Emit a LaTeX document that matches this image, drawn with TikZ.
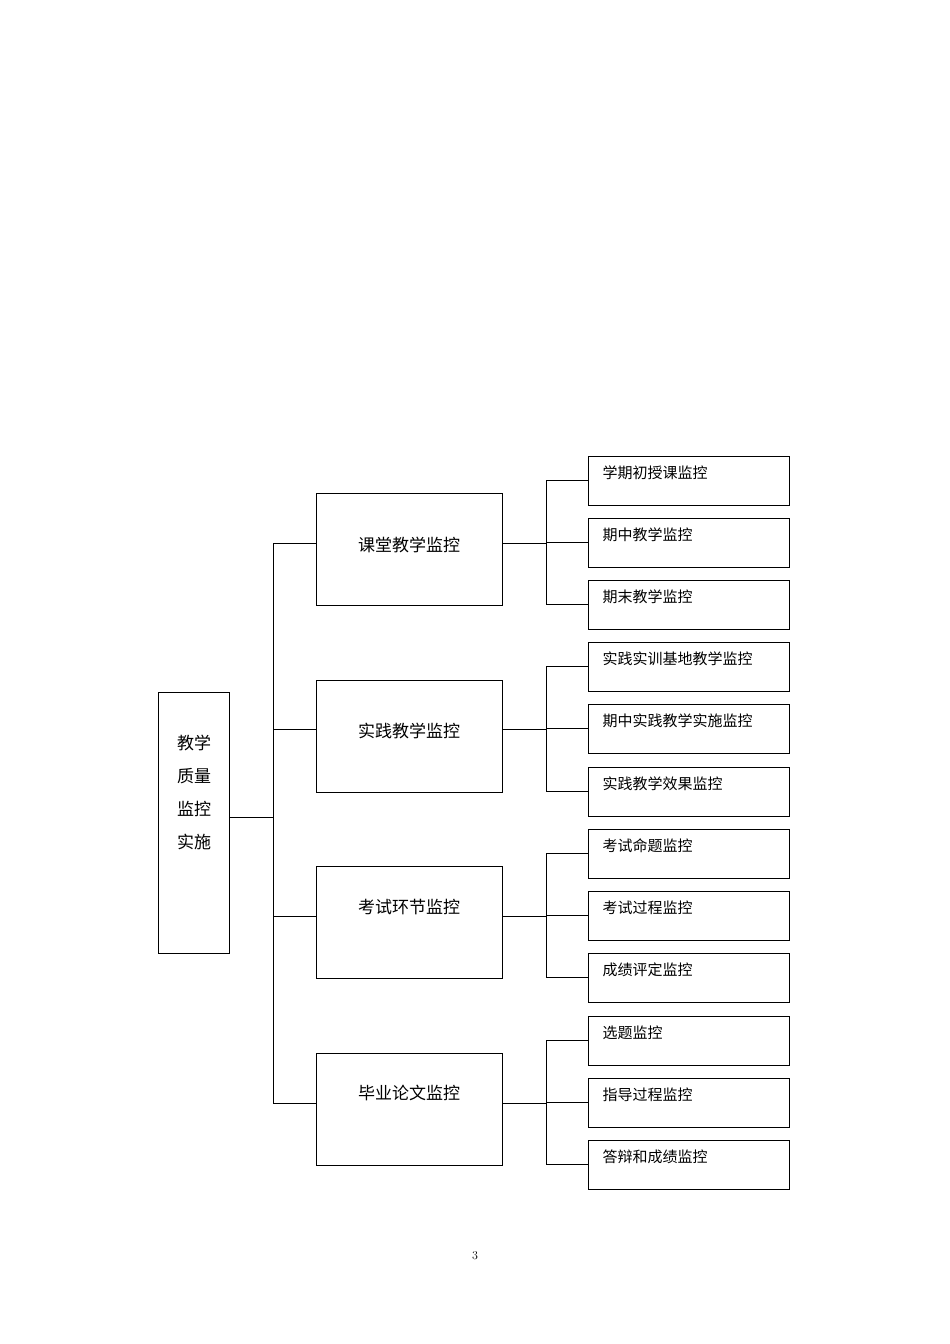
\documentclass[tikz,border=0pt]{standalone}
\usepackage{fontspec}
\newfontfamily\cjk{Noto Sans CJK SC}
\begin{document}
\begin{tikzpicture}[x=1pt,y=-1pt,
  rootbox/.style={draw,line width=0.8pt,minimum width=71pt,minimum height=261pt,anchor=north west,inner sep=0pt},
  midbox/.style={draw,line width=0.8pt,minimum width=186pt,minimum height=112pt,anchor=north west,inner sep=0pt},
  leafbox/.style={draw,line width=0.8pt,minimum width=201pt,minimum height=49pt,anchor=north west,inner sep=0pt},
  txt/.style={font=\cjk\fontsize{17}{20}\selectfont},
  ltxt/.style={font=\cjk\fontsize{15}{18}\selectfont,anchor=west},
  conn/.style={line width=0.8pt}]
\useasboundingbox (0,0) rectangle (950,1344);
\node[rootbox] (root) at (158,692) {};
\foreach \t [count=\i] in {教学,质量,监控,实施}
  \node[txt] at (194,710+33*\i) {\t};
\coordinate (rj) at (273,817);
\draw[conn] (root.east |- rj) -- (rj);
\draw[conn] (273,543) -- (273,1103);
\foreach \top/\ty/\lab/\n in {493/545/课堂教学监控/1,680/731/实践教学监控/2,866/907/考试环节监控/3,1053/1093/毕业论文监控/4}{
  \node[midbox] (m\n) at (316,\top) {};
  \node[txt] at (409,\ty) {\lab};
}
\foreach \n/\y in {1/543,2/729,3/916,4/1103}{
  \coordinate (a\n) at (273,\y);
  \draw[conn] (a\n) -- (m\n.west |- a\n);
  \coordinate (b\n) at (546,\y);
  \draw[conn] (m\n.east |- a\n) -- (b\n);
}
\foreach \top/\lab/\k in {
  456/学期初授课监控/1,518/期中教学监控/2,580/期末教学监控/3,
  642/实践实训基地教学监控/4,704/期中实践教学实施监控/5,767/实践教学效果监控/6,
  829/考试命题监控/7,891/考试过程监控/8,953/成绩评定监控/9,
  1016/选题监控/10,1078/指导过程监控/11,1140/答辩和成绩监控/12}{
  \node[leafbox] (l\k) at (588,\top) {};
  \node[ltxt] at (599,\top+17) {\lab};
  \coordinate (c\k) at (546,\top+24.5);
  \draw[conn] (c\k) -- (l\k.west |- c\k);
}
\draw[conn] (c1) -- (c3);
\draw[conn] (c4) -- (c6);
\draw[conn] (c7) -- (c9);
\draw[conn] (c10) -- (c12);
\node[font=\fontsize{12}{14}\selectfont] (pg) at (475,1256) {3};
\end{tikzpicture}
\end{document}
